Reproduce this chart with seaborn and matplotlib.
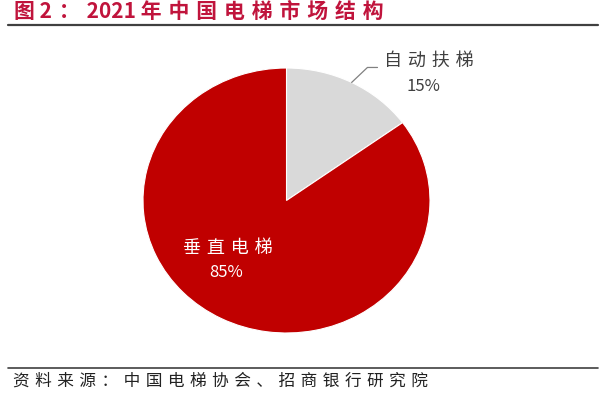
import matplotlib
matplotlib.use("Agg")
import matplotlib.pyplot as plt
import seaborn as sns
import numpy as np

categories = ["自动扶梯", "垂直电梯"]
shares = [15, 85]
colors = ["#D9D9D9", "#C00000"]
title = "图 2：2021 年中国电梯市场结构"
source = "资料来源：中国电梯协会、招商银行研究院"

sns.set_theme(style="white")
plt.rcParams['font.family'] = ['Noto Sans CJK SC', 'DejaVu Sans']


# the reference sets CJK text loosely, so put a narrow space between characters
def spaced(s, sp="\u2004"):
    out = ""
    for i, ch in enumerate(s):
        out += ch
        if i < len(s) - 1 and ch != " " and s[i + 1] != " " and not (ch.isdigit() and s[i + 1].isdigit()):
            out += sp
    return out


fig = plt.figure(figsize=(6, 4), dpi=100)

# title and rules
fig.text(14 / 600, 1 - 11.5 / 400, spaced(title), color="#C0143C",
         fontsize=15, fontweight="bold", va="center", ha="left")
fig.add_artist(plt.Line2D([8 / 600, 598 / 600], [1 - 24.5 / 400, 1 - 24.5 / 400],
                          color="#404040", lw=1.6))
fig.add_artist(plt.Line2D([8 / 600, 598 / 600], [1 - 368 / 400, 1 - 368 / 400],
                          color="#404040", lw=1.2))
fig.text(13 / 600, 1 - 381 / 400, spaced(source), color="#222222",
         fontsize=12, va="center", ha="left")

# pie
ax = fig.add_axes([143 / 600, 67 / 400, 287 / 600, 265 / 400])
wedges, _ = ax.pie(shares, colors=colors, startangle=90, counterclock=False,
                   wedgeprops=dict(edgecolor="white", linewidth=0.8))
ax.set_aspect("auto")
ax.set_xlim(-1, 1)
ax.set_ylim(-1, 1)
ax.axis("off")

# leader line for the small slice
ang = np.deg2rad(90 - shares[0] / 100 * 360 / 2)
x0, y0 = np.cos(ang), np.sin(ang)
ax.plot([x0, 0.564, 0.634], [y0, 1.004, 1.004], color="#808080", lw=0.9, clip_on=False)

ax.text(0.99, 1.057, spaced(categories[0]), ha="center", va="center",
        fontsize=13, color="#404040")
ax.text(0.955, 0.86, f"{shares[0]}%", ha="center", va="center",
        fontsize=12, color="#404040")
ax.text(-0.411, -0.362, spaced(categories[1]), ha="center", va="center",
        fontsize=13, color="white")
ax.text(-0.418, -0.543, f"{shares[1]}%", ha="center", va="center",
        fontsize=12, color="white")

fig.savefig("out.png", dpi=100)
